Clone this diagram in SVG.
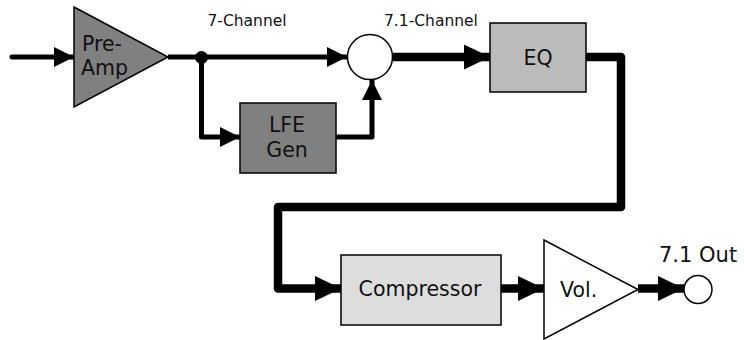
<svg xmlns="http://www.w3.org/2000/svg" width="744" height="340" viewBox="0 0 744 340">
<style>
.t{font-family:"DejaVu Sans","Verdana",sans-serif;font-size:20.5px;fill:#111}
.s{font-family:"DejaVu Sans","Verdana",sans-serif;font-size:15.5px;fill:#111}
.thin{fill:none;stroke:#000;stroke-width:5;stroke-linejoin:round}
.thick{fill:none;stroke:#000;stroke-width:8.5;stroke-linejoin:round}
.blk{stroke:#000;stroke-width:1.5}
</style>
<defs>
<marker id="a1" markerUnits="userSpaceOnUse" markerWidth="20" markerHeight="20" refX="20" refY="10" orient="auto" viewBox="0 0 20 20"><path d="M0,0 L20,10 L0,20 Z" fill="#000"/></marker>
<marker id="a2" markerUnits="userSpaceOnUse" markerWidth="26" markerHeight="25" refX="26" refY="12.5" orient="auto" viewBox="0 0 26 25"><path d="M0,0 L26,12.5 L0,25 Z" fill="#000"/></marker>
</defs>
<g id="connectors">
<path class="thin" d="M12,57 L74,57" stroke-linecap="round" marker-end="url(#a1)"/>
<path class="thin" d="M168,57 L347,57" marker-end="url(#a1)"/>
<path class="thin" d="M201.5,57 L201.5,137 L240,137" marker-end="url(#a1)"/>
<path class="thin" d="M336,137 L372,137 L372,80" marker-end="url(#a1)"/>
<path class="thick" d="M393,57 L490,57" marker-end="url(#a2)"/>
<path class="thick" d="M586,57 L621,57 L621,207 L278,207 L278,288.5 L341,288.5" marker-end="url(#a2)"/>
<path class="thick" d="M501,288.5 L544,288.5" marker-end="url(#a2)"/>
<path class="thick" d="M638,288.5 L684,288.5" marker-end="url(#a2)"/>
<circle cx="201.5" cy="57.5" r="6.5" fill="#000"/>
</g>
<g id="preamp">
<polygon points="74,7 168,57 74,107" fill="#808080" class="blk"/>
<text class="t" x="82" y="51">Pre-</text>
<text class="t" x="81" y="75">Amp</text>
</g>
<g id="sum">
<circle cx="370" cy="57" r="22.5" fill="#fff" class="blk"/>
</g>
<g id="lfe">
<rect x="240" y="103" width="96" height="70" fill="#808080" class="blk"/>
<text class="t" x="287" y="132" text-anchor="middle">LFE</text>
<text class="t" x="287" y="157" text-anchor="middle">Gen</text>
</g>
<g id="eq">
<rect x="490" y="23" width="96" height="69" fill="#bbbbbb" class="blk"/>
<text class="t" x="538" y="64.5" text-anchor="middle">EQ</text>
</g>
<g id="compressor">
<rect x="341" y="255" width="160" height="70" fill="#dddddd" class="blk"/>
<text class="t" x="420" y="296" text-anchor="middle">Compressor</text>
</g>
<g id="vol">
<polygon points="544,240 638,289.5 544,339" fill="#fff" class="blk"/>
<text class="t" x="560" y="296.5">Vol.</text>
</g>
<g id="out">
<circle cx="698" cy="289.5" r="14" fill="#fff" class="blk"/>
<text class="t" x="659" y="261.5" style="font-size:21px">7.1 Out</text>
</g>
<g id="labels">
<text class="s" x="207.5" y="25.7">7-Channel</text>
<text class="s" x="384" y="25.7">7.1-Channel</text>
</g>
</svg>
